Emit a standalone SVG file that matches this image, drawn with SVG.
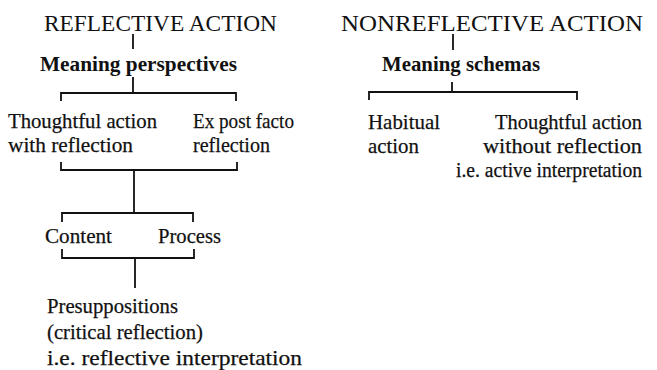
<svg xmlns="http://www.w3.org/2000/svg" width="657" height="370" viewBox="0 0 657 370">
<style>
text{font-family:"Liberation Serif","Times New Roman",serif;fill:#111;}
.h{font-size:23px;}
.b{font-size:21px;font-weight:bold;}
.t{font-size:22px;stroke:#111;stroke-width:0.25px;}
.s{font-size:20.5px;}
.c{fill:none;stroke:#111;stroke-width:1.8;}
</style>
<rect width="657" height="370" fill="#fff"/>
<g id="connectors">
<path class="c" d="M133,34V49"/>
<path class="c" d="M133,77V93M61,101V93H236V101"/>
<path class="c" d="M61,162V170H237V162M134,170V213"/>
<path class="c" d="M62,222V213H193V222"/>
<path class="c" d="M62,249V258H194V249M135,258V288"/>
<path class="c" d="M453,34V50"/>
<path class="c" d="M452,82V92M369,100V92H577V100"/>
</g>
<g id="reflective-action"><text class="h" x="44" y="31" textLength="233" lengthAdjust="spacingAndGlyphs">REFLECTIVE ACTION</text></g>
<g id="meaning-perspectives"><text class="b" x="40" y="71" textLength="197" lengthAdjust="spacingAndGlyphs">Meaning perspectives</text></g>
<g id="thoughtful-with"><text class="t" x="8" y="128" textLength="149" lengthAdjust="spacingAndGlyphs">Thoughtful action</text><text class="t" x="8" y="152" textLength="125" lengthAdjust="spacingAndGlyphs">with reflection</text></g>
<g id="ex-post-facto"><text class="t" x="193" y="128" textLength="101" lengthAdjust="spacingAndGlyphs">Ex post facto</text><text class="t" x="193" y="152" textLength="77" lengthAdjust="spacingAndGlyphs">reflection</text></g>
<g id="content"><text class="t" x="45" y="243" textLength="67" lengthAdjust="spacingAndGlyphs">Content</text></g>
<g id="process"><text class="t" x="158" y="243" textLength="63" lengthAdjust="spacingAndGlyphs">Process</text></g>
<g id="presuppositions"><text class="t" x="47" y="313" textLength="131" lengthAdjust="spacingAndGlyphs">Presuppositions</text><text class="t" x="47" y="339" textLength="156" lengthAdjust="spacingAndGlyphs">(critical reflection)</text><text class="t" x="47" y="365" textLength="255" lengthAdjust="spacingAndGlyphs">i.e. reflective interpretation</text></g>
<g id="nonreflective-action"><text class="h" x="341" y="31" textLength="302" lengthAdjust="spacingAndGlyphs">NONREFLECTIVE ACTION</text></g>
<g id="meaning-schemas"><text class="b" x="382" y="71" textLength="158" lengthAdjust="spacingAndGlyphs">Meaning schemas</text></g>
<g id="habitual-action"><text class="t" x="368" y="129" textLength="72" lengthAdjust="spacingAndGlyphs">Habitual</text><text class="t" x="368" y="153" textLength="51" lengthAdjust="spacingAndGlyphs">action</text></g>
<g id="thoughtful-without"><text class="t" x="495" y="129" textLength="147" lengthAdjust="spacingAndGlyphs">Thoughtful action</text><text class="t" x="483" y="153" textLength="159" lengthAdjust="spacingAndGlyphs">without reflection</text><text class="t s" x="456" y="177" textLength="186" lengthAdjust="spacingAndGlyphs">i.e. active interpretation</text></g>
</svg>
